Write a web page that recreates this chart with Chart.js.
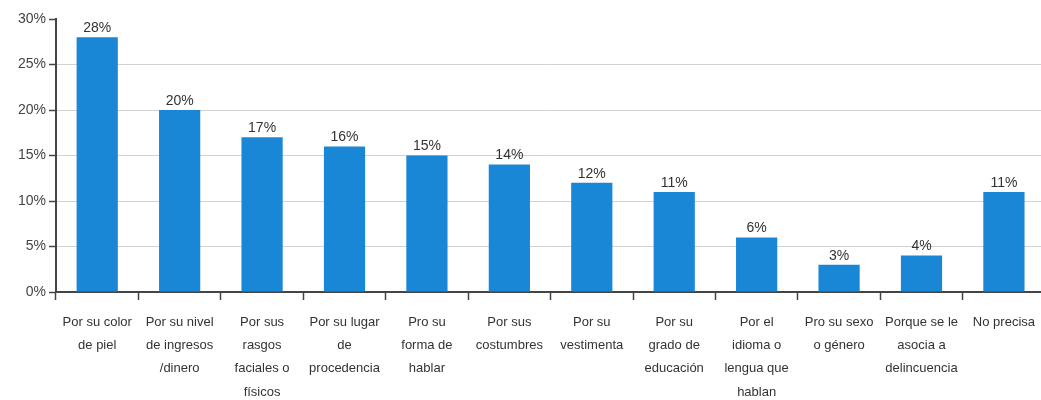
<!DOCTYPE html>
<html>
<head>
<meta charset="utf-8">
<script src="https://cdn.jsdelivr.net/npm/chart.js"></script>
<style>
    html, body { margin: 0; padding: 0; background: #ffffff; overflow: hidden; }
    #wrap { width: 1046px; height: 400px; }
</style>
</head>
<body>
<div id="wrap"><canvas id="chart"></canvas></div>
<script>
// Chart data
const categories = [
    ['Por su color', 'de piel'],
    ['Por su nivel', 'de ingresos', '/dinero'],
    ['Por sus', 'rasgos', 'faciales o', 'físicos'],
    ['Por su lugar', 'de', 'procedencia'],
    ['Pro su', 'forma de', 'hablar'],
    ['Por sus', 'costumbres'],
    ['Por su', 'vestimenta'],
    ['Por su', 'grado de', 'educación'],
    ['Por el', 'idioma o', 'lengua que', 'hablan'],
    ['Pro su sexo', 'o género'],
    ['Porque se le', 'asocia a', 'delincuencia'],
    ['No precisa']
];
const values = [28, 20, 17, 16, 15, 14, 12, 11, 6, 3, 4, 11];
const yTicks = [0, 5, 10, 15, 20, 25, 30];

// Value labels above bars
const barLabels = {
    id: 'barLabels',
    afterDatasetsDraw(chart) {
        const ctx = chart.ctx;
        const meta = chart.getDatasetMeta(0);
        ctx.save();
        ctx.font = '14px "Liberation Sans", Arial, sans-serif';
        ctx.fillStyle = '#333333';
        ctx.textAlign = 'center';
        ctx.textBaseline = 'bottom';
        meta.data.forEach((bar, i) => {
            ctx.fillText(values[i] + '%', bar.x, bar.y - 2);
        });
        ctx.restore();
    }
};

const ctx = document.getElementById('chart').getContext('2d');
new Chart(ctx, {
    type: 'bar',
    data: {
        labels: categories,
        datasets: [{
            data: values,
            backgroundColor: '#1a86d6',
            borderWidth: 0,
            barPercentage: 0.5,
            categoryPercentage: 1
        }]
    },
    options: {
        responsive: true,
        maintainAspectRatio: false,
        animation: false,
        layout: { padding: { top: 19, right: 0, left: 0, bottom: 0 } },
        plugins: {
            legend: { display: false },
            tooltip: { enabled: false }
        },
        scales: {
            x: {
                grid: {
                    offset: true,
                    drawOnChartArea: false,
                    tickLength: 8,
                    tickColor: '#444444',
                    tickWidth: 1.5
                },
                border: { color: '#444444', width: 2 },
                ticks: {
                    color: '#333333',
                    font: { family: '"Liberation Sans", Arial, sans-serif', size: 13, lineHeight: 1.78 },
                    padding: 11,
                    maxRotation: 0,
                    autoSkip: false
                },
                afterFit: (scale) => { scale.height = 108; }
            },
            y: {
                min: 0,
                max: 30,
                afterBuildTicks: (scale) => { scale.ticks = yTicks.map(v => ({ value: v })); },
                grid: {
                    color: (c) => (c.tick && (c.tick.value === 0 || c.tick.value === 30)) ? 'rgba(0,0,0,0)' : '#d2d2d2',
                    tickColor: '#444444',
                    tickLength: 7,
                    tickWidth: 1.5
                },
                border: { color: '#444444', width: 2 },
                ticks: {
                    color: '#444444',
                    font: { family: '"Liberation Sans", Arial, sans-serif', size: 14 },
                    padding: 3,
                    callback: (v) => v + '%'
                },
                afterFit: (scale) => { scale.width = 56; }
            }
        }
    },
    plugins: [barLabels]
});
</script>
</body>
</html>
